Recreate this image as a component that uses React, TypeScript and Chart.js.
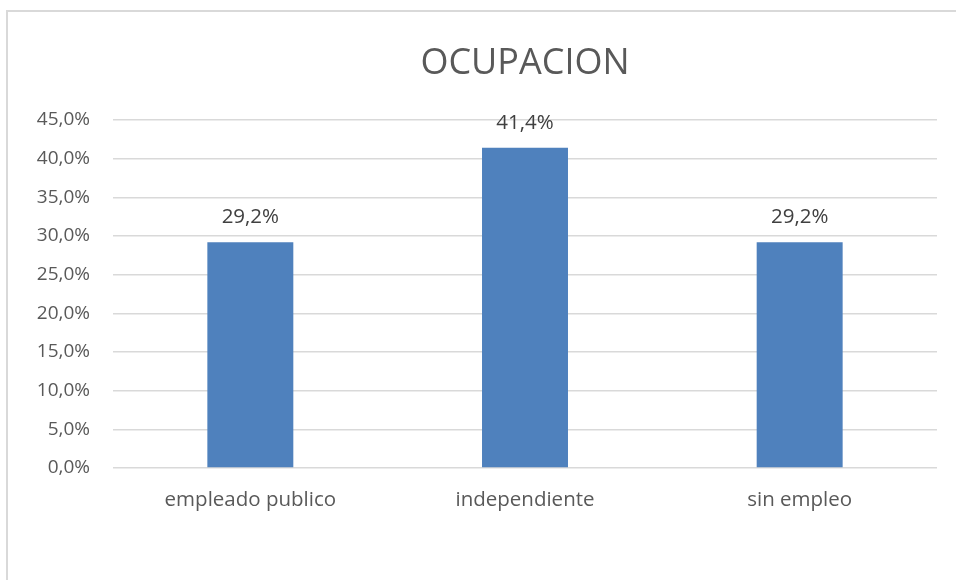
import React, { useEffect, useRef } from "react";
import { Chart, registerables } from "chart.js";

Chart.register(...registerables);

const TITLE = "OCUPACION";
const categories = ["empleado publico", "independiente", "sin empleo"];
const values = [29.2, 41.4, 29.2];
const yMax = 45;
const yStep = 5;

const FONT = "'Open Sans', sans-serif";
const fmt = (v: number, d: number) => v.toFixed(d).replace(".", ",") + "%";

const overlayPlugin = {
  id: "overlay",
  afterDatasetsDraw(chart: any) {
    const ctx = chart.ctx;
    const area = chart.chartArea;
    ctx.save();
    ctx.fillStyle = "#595959";
    ctx.font = `36px ${FONT}`;
    ctx.textAlign = "center";
    ctx.textBaseline = "middle";
    ctx.fillText(TITLE, (area.left + area.right) / 2, 64);
    const meta = chart.getDatasetMeta(0);
    ctx.fillStyle = "#404040";
    ctx.font = `20.5px ${FONT}`;
    meta.data.forEach((bar: any, i: number) => {
      ctx.fillText(fmt(values[i], 1), bar.x, bar.y - 25);
    });
    ctx.restore();
  },
};

export default function App() {
  const ref = useRef<HTMLCanvasElement>(null);
  useEffect(() => {
    const chart = new Chart(ref.current!, {
      type: "bar",
      data: {
        labels: categories,
        datasets: [
          {
            data: values,
            backgroundColor: "#4F81BD",
            barPercentage: 1,
            categoryPercentage: 0.313,
          },
        ],
      },
      options: {
        responsive: false,
        animation: false,
        layout: { padding: { top: 120, right: 19, left: 0, bottom: 0 } },
        plugins: { legend: { display: false }, tooltip: { enabled: false }, title: { display: false } },
        scales: {
          x: {
            grid: { display: false, drawTicks: false },
            border: { display: false },
            ticks: { color: "#595959", font: { family: FONT, size: 20.5 }, padding: 20 },
            afterFit: (s: any) => {
              s.height = 112;
            },
          },
          y: {
            min: 0,
            max: yMax,
            ticks: {
              stepSize: yStep,
              color: "#595959",
              font: { family: FONT, size: 19 },
              padding: 23,
              callback: (v: any) => fmt(Number(v), 1),
            },
            grid: { color: "#D9D9D9", lineWidth: 1.5, drawTicks: false },
            border: { display: false },
            afterFit: (s: any) => {
              s.width = 113;
            },
          },
        },
      },
      plugins: [overlayPlugin],
    });
    return () => chart.destroy();
  }, []);
  return (
    <div style={{ position: "fixed", left: 0, top: 0, width: 956, height: 580, background: "#fff", overflow: "hidden" }}>
      <div
        style={{
          position: "absolute",
          left: 6,
          top: 10,
          width: 1000,
          height: 1000,
          border: "2px solid #D9D9D9",
          boxSizing: "border-box",
        }}
      />
      <canvas ref={ref} width={956} height={580} style={{ position: "absolute", left: 0, top: 0 }} />
    </div>
  );
}
